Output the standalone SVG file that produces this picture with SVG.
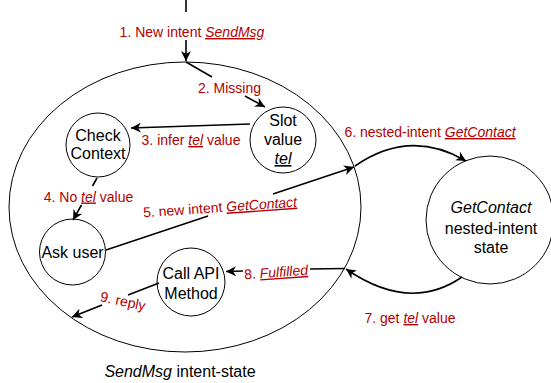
<svg xmlns="http://www.w3.org/2000/svg" width="551" height="383" viewBox="0 0 551 383">
<style>
.shape{fill:none;stroke:#000;stroke-width:1}
.node{fill:#fff;stroke:#000;stroke-width:1}
.nt{font-family:"Liberation Sans",Arial,sans-serif;font-size:16px;fill:#000;text-anchor:middle}
.lbl{font-family:"Liberation Sans",Arial,sans-serif;font-size:14px;fill:#B20000;text-anchor:middle}
.em{font-style:italic;text-decoration:underline}
.it{font-style:italic}
.c{fill:none;stroke:#000;stroke-width:1.6}
</style>
<defs>
<marker id="ah" markerWidth="12" markerHeight="10" refX="10" refY="5" orient="auto" markerUnits="userSpaceOnUse">
<path d="M0,0 L10,5 L0,10 L3,5 z" fill="#000"/>
</marker>
</defs>
<rect width="551" height="383" fill="#fff"/>
<g id="sendmsg-state">
<ellipse class="shape" cx="185" cy="207" rx="176" ry="145"/>
<text class="nt" x="180" y="377"><tspan class="it">SendMsg</tspan> intent-state</text>
</g>
<g id="check-context">
<circle class="node" cx="98" cy="145" r="32"/>
<text class="nt" x="98" y="141">Check</text>
<text class="nt" x="98" y="159">Context</text>
</g>
<g id="slot-value">
<circle class="node" cx="283" cy="140" r="33"/>
<text class="nt" x="283" y="126">Slot</text>
<text class="nt" x="283" y="145">value</text>
<text class="nt" x="283" y="164"><tspan class="em">tel</tspan></text>
</g>
<g id="ask-user">
<circle class="node" cx="72.5" cy="252" r="33"/>
<text class="nt" x="72.5" y="258">Ask user</text>
</g>
<g id="call-api">
<circle class="node" cx="191" cy="282" r="34"/>
<text class="nt" x="191" y="279">Call API</text>
<text class="nt" x="191" y="299">Method</text>
</g>
<g id="getcontact-state">
<circle class="node" cx="490" cy="220" r="64"/>
<text class="nt" x="491" y="213"><tspan class="it">GetContact</tspan></text>
<text class="nt" x="491" y="234">nested-intent</text>
<text class="nt" x="491" y="253">state</text>
</g>
<g id="connectors">
<path class="c" d="M186,0 L186,12"/>
<path class="c" d="M186,40 L186,61" marker-end="url(#ah)"/>
<path class="c" d="M186,62 L212,77"/>
<path class="c" d="M245,96 L265,107" marker-end="url(#ah)"/>
<path class="c" d="M250,124 L131,128" marker-end="url(#ah)"/>
<path class="c" d="M97,178 L92.5,186"/>
<path class="c" d="M81.5,205 L73,220" marker-end="url(#ah)"/>
<path class="c" d="M106,250 L208,216"/>
<path class="c" d="M273,194 L354,167" marker-end="url(#ah)"/>
<path class="c" d="M355,166 Q410,128 466,161" marker-end="url(#ah)"/>
<path class="c" d="M462,277 Q410,313 346,269" marker-end="url(#ah)"/>
<path class="c" d="M345,268.5 L310,269"/>
<path class="c" d="M243,271 L226,271.5" marker-end="url(#ah)"/>
<path class="c" d="M159,283 L128,295"/>
<path class="c" d="M102,305 L72,317" marker-end="url(#ah)"/>
<text class="lbl" x="192" y="37">1. New intent <tspan class="em">SendMsg</tspan></text>
<text class="lbl" x="229.5" y="92.5">2. Missing</text>
<text class="lbl" x="191" y="145">3. infer <tspan class="em">tel</tspan> value</text>
<text class="lbl" x="88.5" y="201.5">4. No <tspan class="em">tel</tspan> value</text>
<text class="lbl" x="220" y="212" transform="rotate(-4 220 207)">5. new intent <tspan class="em">GetContact</tspan></text>
<text class="lbl" x="430" y="137">6. nested-intent <tspan class="em">GetContact</tspan></text>
<text class="lbl" x="410" y="323">7. get <tspan class="em">tel</tspan> value</text>
<text class="lbl" x="276" y="277" transform="rotate(-4 276 272)">8. <tspan class="em">Fulfilled</tspan></text>
<text class="lbl" x="123" y="306" transform="rotate(12 123 301)">9. reply</text>
</g>
</svg>
